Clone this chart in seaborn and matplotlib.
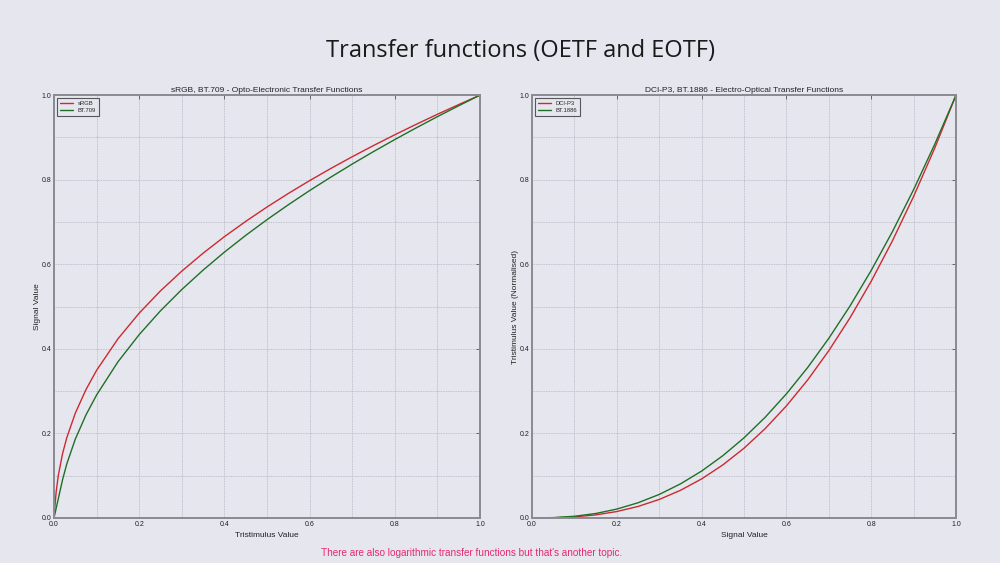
import matplotlib
matplotlib.use("Agg")
import matplotlib.pyplot as plt
import numpy as np
import pandas as pd
import seaborn as sns
from matplotlib.ticker import MultipleLocator

# Left panel: linear tristimulus value -> encoded signal value
OETF_X = [0.0, 0.002, 0.005, 0.01, 0.02, 0.03, 0.05, 0.075, 0.1, 0.15, 0.2, 0.25, 0.3,
          0.35, 0.4, 0.45, 0.5, 0.55, 0.6, 0.65, 0.7, 0.75, 0.8, 0.85, 0.9, 0.95, 1.0]
SRGB = [0.0, 0.026, 0.061, 0.0999, 0.1517, 0.1898, 0.2478, 0.3035, 0.3492, 0.4235, 0.4845,
        0.5371, 0.5838, 0.6262, 0.6653, 0.7014, 0.7354, 0.7674, 0.7978, 0.8267, 0.8543,
        0.8808, 0.9063, 0.9309, 0.9547, 0.9777, 1.0]
BT709 = [0.0, 0.009, 0.0225, 0.045, 0.090, 0.1278, 0.1864, 0.2436, 0.2909, 0.3691, 0.4337,
         0.4900, 0.5403, 0.5862, 0.6287, 0.6683, 0.7055, 0.7407, 0.7743, 0.8062, 0.8370,
         0.8665, 0.8950, 0.9225, 0.9491, 0.9749, 1.0]

# Right panel: signal value -> displayed tristimulus value
EOTF_X = [0.0, 0.05, 0.1, 0.15, 0.2, 0.25, 0.3, 0.35, 0.4, 0.45, 0.5, 0.55, 0.6, 0.65,
          0.7, 0.75, 0.8, 0.85, 0.9, 0.95, 1.0]
DCIP3 = [0.0, 0.0004, 0.0025, 0.0072, 0.0152, 0.0272, 0.0437, 0.0653, 0.0923, 0.1254,
         0.1649, 0.2114, 0.2650, 0.3262, 0.3956, 0.4733, 0.5598, 0.6553, 0.7604, 0.8751, 1.0]
BT1886 = [0.0, 0.0008, 0.0040, 0.0105, 0.0210, 0.0359, 0.0556, 0.0805, 0.1109, 0.1472,
          0.1895, 0.2382, 0.2935, 0.3556, 0.4248, 0.5013, 0.5854, 0.6771, 0.7765, 0.8842, 1.0]

BG = "#e6e6ef"
RED = "#cc2a30"
GREEN = "#1f7026"

sns.set_style("white")
plt.rcParams["font.family"] = ["Liberation Sans", "DejaVu Sans"]

fig = plt.figure(figsize=(10, 5.63), dpi=100, facecolor=BG)
ax1 = fig.add_axes([0.054, 0.080, 0.426, 0.751])
ax2 = fig.add_axes([0.532, 0.080, 0.424, 0.751])

left = pd.DataFrame({"x": OETF_X * 2, "y": SRGB + BT709,
                     "curve": ["sRGB"] * len(SRGB) + ["BT.709"] * len(BT709)})
right = pd.DataFrame({"x": EOTF_X * 2, "y": DCIP3 + BT1886,
                      "curve": ["DCI-P3"] * len(DCIP3) + ["BT.1886"] * len(BT1886)})

panels = [
    (ax1, left, ["sRGB", "BT.709"], "sRGB, BT.709 - Opto-Electronic Transfer Functions",
     "Tristimulus Value", "Signal Value"),
    (ax2, right, ["DCI-P3", "BT.1886"], "DCI-P3, BT.1886 - Electro-Optical Transfer Functions",
     "Signal Value", "Tristimulus Value (Normalised)"),
]

for ax, df, names, title, xlabel, ylabel in panels:
    ax.set_facecolor(BG)
    sns.lineplot(data=df, x="x", y="y", hue="curve", hue_order=names,
                 palette=[RED, GREEN], linewidth=1.0, ax=ax)
    ax.set_xlim(0, 1)
    ax.set_ylim(0, 1)
    ax.xaxis.set_major_locator(MultipleLocator(0.2))
    ax.yaxis.set_major_locator(MultipleLocator(0.2))
    ax.xaxis.set_minor_locator(MultipleLocator(0.1))
    ax.yaxis.set_minor_locator(MultipleLocator(0.1))
    ax.grid(True, which="both", linestyle=(0, (1, 1)), linewidth=0.6, color="#b4b4c0")
    ax.tick_params(which="major", direction="in", length=3, width=0.6, labelsize=5,
                   top=True, right=True, color="#555555", labelcolor="#222222", pad=2)
    ax.tick_params(which="minor", length=0)
    for spine in ax.spines.values():
        spine.set_color("#8a8a92")
        spine.set_linewidth(1.4)
    ax.set_title(title, fontsize=6, pad=2, color="#222222")
    ax.set_xlabel(xlabel, fontsize=6, labelpad=3, color="#222222")
    ax.set_ylabel(ylabel, fontsize=6, labelpad=0, color="#222222")
    leg = ax.legend(loc="upper left", fontsize=4.2, frameon=True, fancybox=False,
                    handlelength=2.2, borderpad=0.5, labelspacing=0.4)
    leg.get_frame().set_edgecolor("#333333")
    leg.get_frame().set_linewidth(0.8)
    leg.get_frame().set_facecolor(BG)

fig.text(0.521, 0.91, "Transfer functions (OETF and EOTF)", ha="center", va="center",
         fontsize=17, family=["Open Sans", "DejaVu Sans"], color="#1a1a1a")
fig.text(0.472, 0.018, "There are also logarithmic transfer functions but that's another topic.",
         ha="center", va="center", fontsize=7.2, color="#e8286e")

fig.savefig("out.png", dpi=100, facecolor=BG)
